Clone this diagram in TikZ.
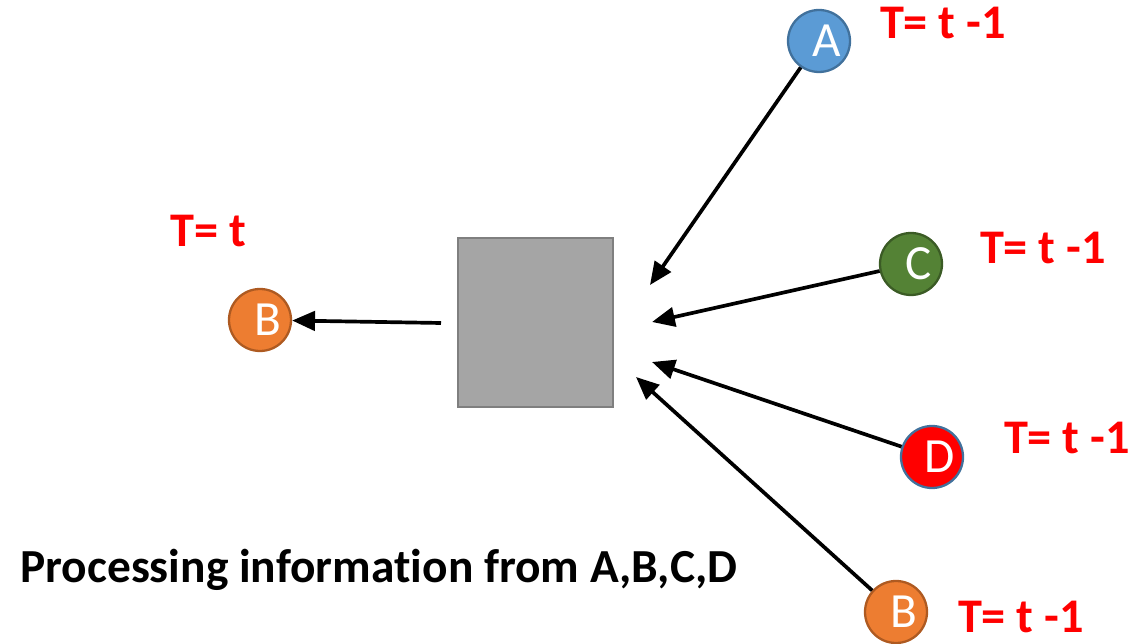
\documentclass[tikz,border=0pt]{standalone}
\usepackage{fontspec}
\setmainfont{Carlito}[Ligatures=NoCommon]
\usetikzlibrary{arrows.meta}
\definecolor{nodeblue}{HTML}{5B9BD5}
\definecolor{blueedge}{HTML}{41719C}
\definecolor{nodeorange}{HTML}{ED7D31}
\definecolor{orangeedge}{HTML}{AE5A21}
\definecolor{nodegreen}{HTML}{548235}
\definecolor{greenedge}{HTML}{3B5B25}
\definecolor{boxfill}{HTML}{A5A5A5}
\definecolor{boxedge}{HTML}{7F7F7F}
\newlength{\unitpx}
\setlength{\unitpx}{0.02cm}
\tikzset{
  agent/.style={circle, minimum size=62\unitpx, inner sep=0pt, line width=1.3pt,
    text=white, font=\fontsize{28}{30}\selectfont},
  timelabel/.style={text=red, font=\bfseries\fontsize{27.5}{30}\selectfont, inner sep=0pt},
  link/.style={line width=2.1pt, -{Triangle[length=13pt,width=11pt]}},
}
\begin{document}
\begin{tikzpicture}[x=0.02cm, y=-0.02cm]
\useasboundingbox (0,0) rectangle (1133,644);

% processing unit
\node[draw=boxedge, fill=boxfill, line width=1.3pt, minimum width=155\unitpx,
  minimum height=169\unitpx, inner sep=0pt] (unit) at (535.5,322.5) {};

% agents at time t-1 and t
\node[agent, fill=nodeorange, draw=orangeedge] (Bout) at (260,320) {\hspace{16\unitpx}B};
\node[agent, fill=nodeblue, draw=blueedge] (A) at (819,41) {\hspace{16\unitpx}A};
\node[agent, fill=nodegreen, draw=greenedge] (C) at (911,264) {\hspace{16\unitpx}C};
\node[agent, fill=red, draw=blueedge] (D) at (932,457) {\hspace{16\unitpx}D};
\node[agent, fill=nodeorange, draw=orangeedge] (Bin) at (896,612) {\hspace{16\unitpx}B};

% time labels
\node[timelabel] (tB) at (208,231) {T= t};
\node[timelabel] (tA) at (943,23) {T= t -1};
\node[timelabel] (tC) at (1043,248) {T= t -1};
\node[timelabel] (tD) at (1067,438) {T= t -1};
\node[timelabel] (tBin) at (1021,617) {T= t -1};

% arrow end points beside the unit
\coordinate (outStart) at (441,323);
\coordinate (inA) at (650,285);
\coordinate (inC) at (652,322);
\coordinate (inD) at (652,362);
\coordinate (inB) at (636,377);

% connectors
\draw[link] (outStart) -- (Bout);
\draw[link] (A) -- (inA);
\draw[link] (C) -- (inC);
\draw[link] (D) -- (inD);
\draw[link] (Bin) -- (inB);

% caption
\node[font=\bfseries\fontsize{27}{29}\selectfont, anchor=west, inner sep=0pt]
  (caption) at (20,570) {Processing information from A,B,C,D};
\end{tikzpicture}
\end{document}
